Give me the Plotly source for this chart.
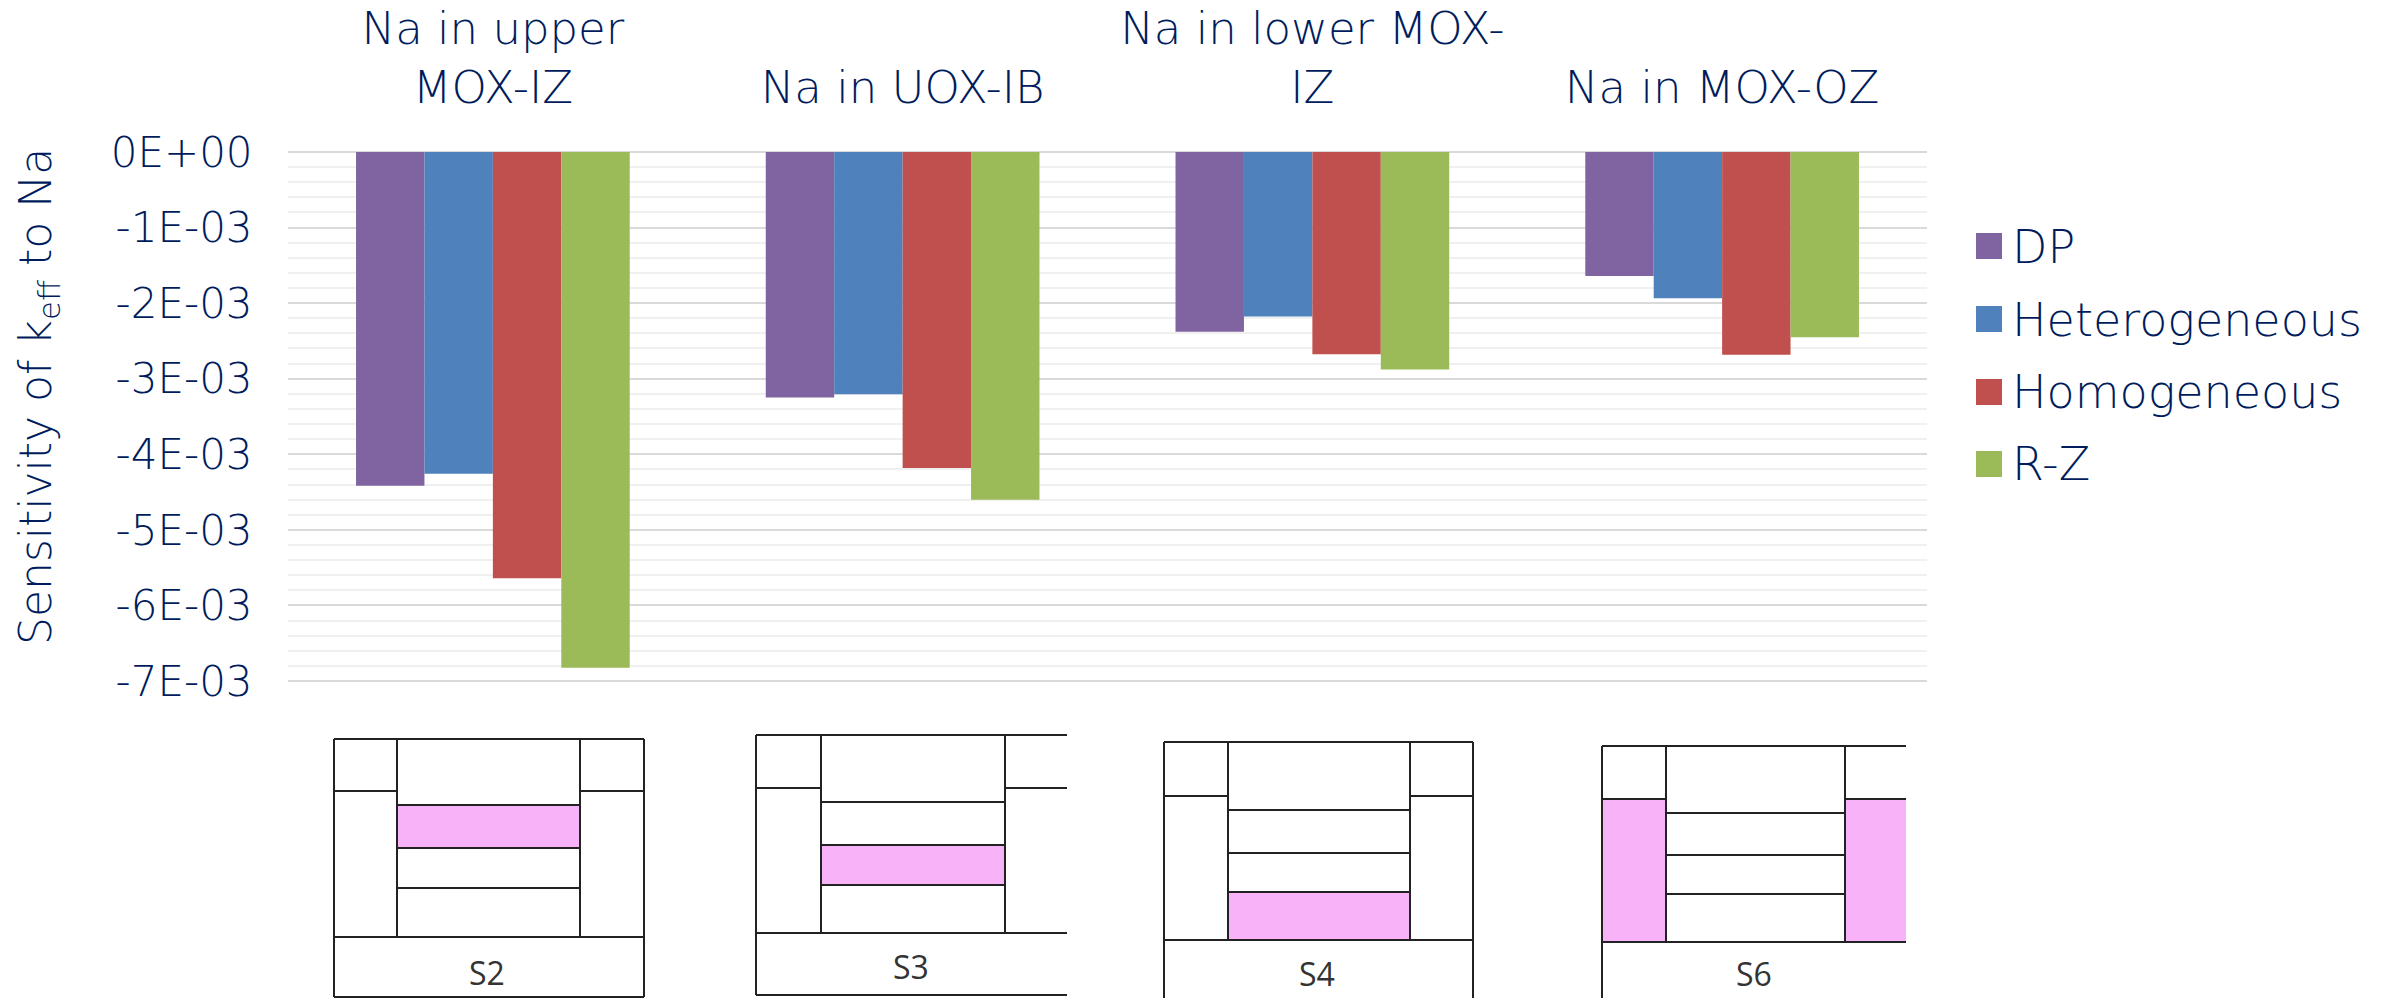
import plotly.graph_objects as go

W, H = 2381, 998

categories = ["Na in upper<br>MOX-IZ", "Na in UOX-IB", "Na in lower MOX-<br>IZ", "Na in MOX-OZ"]
series_names = ["DP", "Heterogeneous", "Homogeneous", "R-Z"]
series_colors = ["#8064A2", "#4F81BD", "#C0504D", "#9BBB59"]
dp = [-4.416e-3, -3.248e-3, -2.378e-3, -1.642e-3]
heterogeneous = [-4.258e-3, -3.205e-3, -2.178e-3, -1.934e-3]
homogeneous = [-5.64e-3, -4.18e-3, -2.676e-3, -2.682e-3]
rz = [-6.825e-3, -4.60e-3, -2.877e-3, -2.451e-3]
tick_vals = [0, -1e-3, -2e-3, -3e-3, -4e-3, -5e-3, -6e-3, -7e-3]
tick_text = ["0E+00", "-1E-03", "-2E-03", "-3E-03", "-4E-03", "-5E-03", "-6E-03", "-7E-03"]

NAVY = "#001C5C"
FONT = "DejaVu Sans"
WEIGHT = 200
PINK = "#F8B2F8"
LINE = "#222222"

# inset schematics (pixel layout of the pasted pictures)
insets = [
    dict(label="S2", x=[334, 397, 580, 644], top=739, side=791, levels=[805, 848, 888], base=937, bottom=997,
         pink="band", band=(805, 848), right_edge=True, lx=487, ly=972),
    dict(label="S3", x=[756, 821, 1005, 1067], top=735, side=788, levels=[802, 845, 885], base=933, bottom=995,
         pink="band", band=(845, 885), right_edge=False, lx=911, ly=966),
    dict(label="S4", x=[1164, 1228, 1410, 1473], top=742, side=796, levels=[810, 853, 892], base=940, bottom=1000,
         pink="band", band=(892, 940), right_edge=True, lx=1317, ly=973),
    dict(label="S6", x=[1602, 1666, 1845, 1906], top=746, side=799, levels=[813, 855, 894], base=942, bottom=1000,
         pink="sides", band=None, right_edge=False, lx=1754, ly=973),
]


def px(x):
    return x / W


def py(y):
    return 1 - y / H


fig = go.Figure()
for name, color, vals in zip(series_names, series_colors, [dp, heterogeneous, homogeneous, rz]):
    fig.add_trace(go.Bar(name=name, x=categories, y=vals, legendgroup=name,
                         marker=dict(color=color, line=dict(width=0))))

shapes = []


def rect(x0, y0, x1, y1, fill):
    shapes.append(dict(type="rect", xref="paper", yref="paper", x0=px(x0), x1=px(x1), y0=py(y0), y1=py(y1),
                       fillcolor=fill, line=dict(width=0), layer="above"))


def seg(x0, y0, x1, y1):
    shapes.append(dict(type="line", xref="paper", yref="paper", x0=px(x0), x1=px(x1), y0=py(y0), y1=py(y1),
                       line=dict(color=LINE, width=2), layer="above"))


annotations = []
for d in insets:
    a, b, c, e = d["x"]
    if d["pink"] == "band":
        rect(b, d["band"][0], c, d["band"][1], PINK)
    else:
        rect(a, d["side"], b, d["base"], PINK)
        rect(c, d["side"], e, d["base"], PINK)
    seg(a, d["top"], e, d["top"])
    seg(a, d["top"], a, d["bottom"])
    if d["right_edge"]:
        seg(e, d["top"], e, d["bottom"])
    seg(b, d["top"], b, d["base"])
    seg(c, d["top"], c, d["base"])
    seg(a, d["side"], b, d["side"])
    seg(c, d["side"], e, d["side"])
    for lv in d["levels"]:
        seg(b, lv, c, lv)
    seg(a, d["base"], e, d["base"])
    seg(a, d["bottom"], e, d["bottom"])
    annotations.append(dict(text=d["label"], xref="paper", yref="paper", x=px(d["lx"]), y=py(d["ly"]),
                            showarrow=False, xanchor="center", yanchor="middle",
                            font=dict(family="Open Sans", size=32, color="#333333")))

# y axis title
annotations.append(dict(text="Sensitivity of k<sub>eff</sub> to Na", xref="paper", yref="paper",
                        x=px(38), y=py(397), textangle=-90, showarrow=False, xanchor="center", yanchor="middle",
                        font=dict(family=FONT, size=44, color=NAVY, weight=WEIGHT)))

# legend swatches sit under the native legend's smaller ones
legend_rows = [246, 319, 392, 464]
for color, row in zip(series_colors, legend_rows):
    rect(1976, row - 13, 2002, row + 13, color)

fig.update_layout(
    width=W, height=H,
    margin=dict(l=0, r=0, t=0, b=0, autoexpand=False),
    paper_bgcolor="white", plot_bgcolor="white",
    barmode="group", bargap=0.332, bargroupgap=0,
    font=dict(family=FONT, color=NAVY),
    shapes=shapes, annotations=annotations,
    showlegend=True,
    legend=dict(x=px(1972), xanchor="left", y=py(246 - 37), yanchor="top", bgcolor="rgba(0,0,0,0)",
                font=dict(family=FONT, size=46, color=NAVY, weight=WEIGHT), tracegroupgap=9.5,
                itemclick=False, itemdoubleclick=False),
    xaxis=dict(domain=[px(288), px(1927)], side="top", anchor="y", showgrid=False, zeroline=False,
               showline=False, ticks="outside", ticklen=29, tickcolor="rgba(0,0,0,0)",
               tickfont=dict(family=FONT, size=45, color=NAVY, weight=WEIGHT), tickangle=0),
    yaxis=dict(domain=[py(682.5), py(150.5)], range=[-7.02e-3, 2e-5], tickmode="array", tickvals=tick_vals,
               ticktext=tick_text, showgrid=True, gridcolor="#D9D9D9", gridwidth=2, zeroline=False,
               showline=False, ticks="outside", ticklen=26, tickcolor="rgba(0,0,0,0)",
               tickfont=dict(family=FONT, size=42, color=NAVY, weight=WEIGHT),
               minor=dict(dtick=2e-4, tick0=0, showgrid=True, gridcolor="#F0F0F0", gridwidth=2, ticks="")),
)

fig.write_html("out.html", config={"displayModeBar": False}, post_script="document.body.style.margin='0';")
